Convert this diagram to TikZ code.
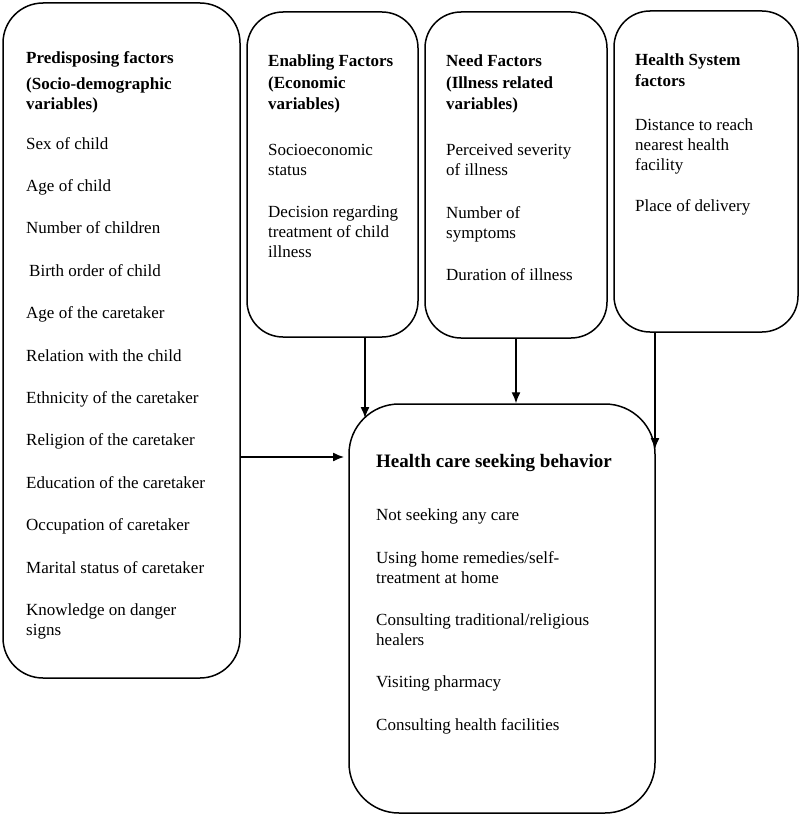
\documentclass[tikz,border=0pt]{standalone}
\usepackage{fontspec}
\setmainfont{Liberation Serif}
\usepackage{tikz}
\usetikzlibrary{arrows.meta}
\usetikzlibrary{calc}

\begin{document}
\begin{tikzpicture}[
    x=1pt, y=-1pt,
    factor box/.style={draw, line width=1.5pt, inner sep=0pt},
    outcome box/.style={draw, line width=1.5pt, inner sep=0pt, rounded corners=50pt},
    box text/.style={anchor=north west, inner sep=0pt, align=left, font=\fontsize{17}{20}\selectfont},
    arrow line/.style={-{Latex[length=11pt, width=9pt]}, line width=1.3pt},
    every node/.style={color=black}
    ]

    % page frame
    \useasboundingbox (0,0) rectangle (800,816);

    % define boxes
    \node[factor box, rounded corners=40pt, minimum width=237pt, minimum height=675pt] (predisposing) at (121.5,340.5) {};
    \node[factor box, rounded corners=36pt, minimum width=171pt, minimum height=325pt] (enabling) at (332.5,174.5) {};
    \node[factor box, rounded corners=36pt, minimum width=182pt, minimum height=326pt] (need) at (516,175) {};
    \node[factor box, rounded corners=36pt, minimum width=184pt, minimum height=321pt] (system) at (706,171.5) {};
    \node[outcome box, minimum width=306pt, minimum height=409pt] (behavior) at (502,608.5) {};

    % texts
    \node[box text] (predisposing text) at (26,51) {%
        \textbf{Predisposing factors}\\[6pt]
        \textbf{(Socio-demographic}\\
        \textbf{variables)}\\[20pt]
        Sex of child\\[22.4pt]
        Age of child\\[22.4pt]
        Number of children\\[22.4pt]
        \hspace{3pt}Birth order of child\\[22.4pt]
        Age of the caretaker\\[22.4pt]
        Relation with the child\\[22.4pt]
        Ethnicity of the caretaker\\[22.4pt]
        Religion of the caretaker\\[22.4pt]
        Education of the caretaker\\[22.4pt]
        Occupation of caretaker\\[22.4pt]
        Marital status of caretaker\\[22.4pt]
        Knowledge on danger\\
        signs};
    \node[box text] (enabling text) at (268,54.5) {%
        \textbf{Enabling Factors}\\[2pt]
        \textbf{(Economic}\\[1pt]
        \textbf{variables)}\\[26pt]
        Socioeconomic\\
        status\\[22pt]
        Decision regarding\\
        treatment of child\\
        illness};
    \node[box text] (need text) at (446,54.5) {%
        \textbf{Need Factors}\\[2pt]
        \textbf{(Illness related}\\[1pt]
        \textbf{variables)}\\[26pt]
        Perceived severity\\
        of illness\\[23pt]
        Number of\\
        symptoms\\[22pt]
        Duration of illness};
    \node[box text] (system text) at (635,53.5) {%
        \textbf{Health System}\\[1pt]
        \textbf{factors}\\[24pt]
        Distance to reach\\
        nearest health\\
        facility\\[21pt]
        Place of delivery};
    \node[box text] (behavior text) at (376,454) {%
        {\fontsize{19}{20}\selectfont\textbf{Health care seeking behavior}}\\[33pt]
        Not seeking any care\\[23pt]
        Using home remedies/self-\\
        treatment at home\\[22pt]
        Consulting traditional/religious\\
        healers\\[22pt]
        Visiting pharmacy\\[23pt]
        Consulting health facilities};

    % arrow ends
    \coordinate (enabling end) at (365,418);
    \coordinate (system end) at (655,449);
    \coordinate (predisposing end) at (344,457);

    % arrows
    \draw[arrow line] (enabling end |- enabling.south) -- (enabling end);
    \draw[arrow line] (need.south) -- (need.south |- behavior.north);
    \draw[arrow line] (system end |- system.south) -- (system end);
    \draw[arrow line] (predisposing.east |- predisposing end) -- (predisposing end);
\end{tikzpicture}
\end{document}
